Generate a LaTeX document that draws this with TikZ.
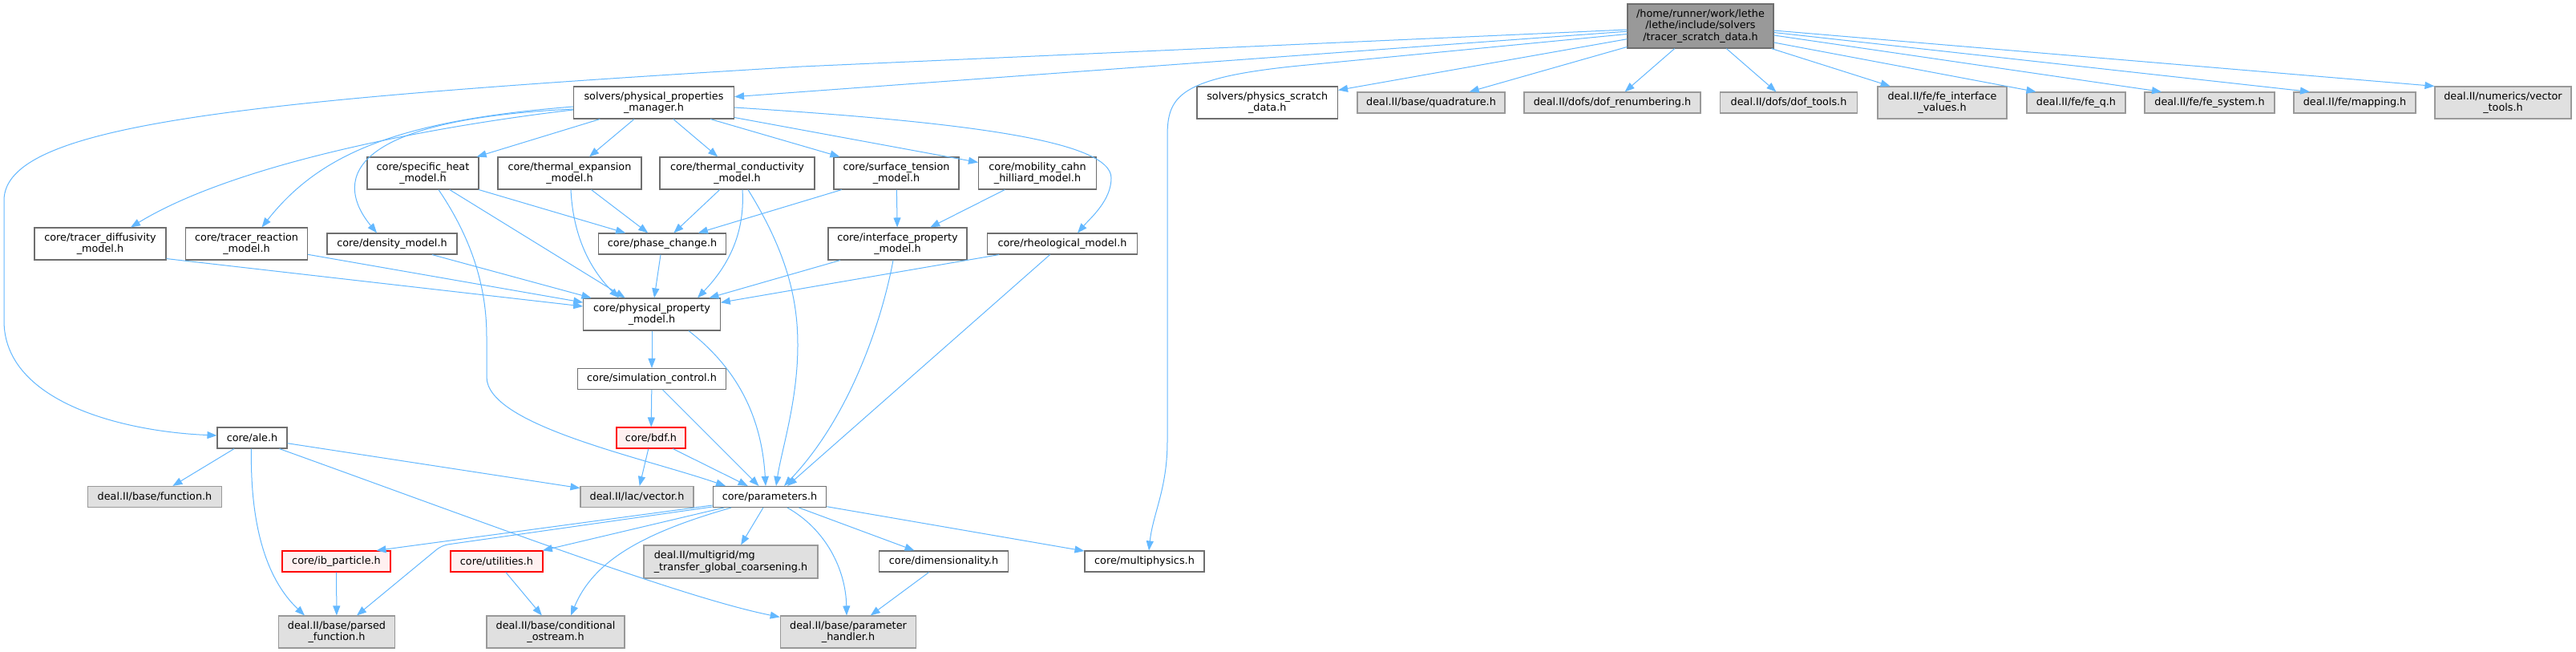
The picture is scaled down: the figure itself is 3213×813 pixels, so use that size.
\documentclass[tikz,border=0pt]{standalone}
\usepackage{fontspec}
\setmainfont{DejaVu Sans}
\usetikzlibrary{arrows.meta}
\definecolor{edgeblue}{HTML}{63B8FF}
\definecolor{bordergray}{HTML}{6E6E6E}
\definecolor{extfill}{HTML}{E0E0E0}
\definecolor{extborder}{HTML}{999999}
\definecolor{redfill}{HTML}{FFF0F0}
\definecolor{topfill}{HTML}{999999}
\tikzset{
  whitebox/.style={draw=bordergray, fill=white, line width=1.1pt, inner sep=0pt,
    minimum height=26pt, align=center, font=\fontsize{12.8}{14.7}\selectfont},
  twoline/.style={minimum height=40pt},
  extbox/.style={whitebox, fill=extfill, draw=extborder},
  redbox/.style={whitebox, fill=redfill, draw=red},
  topbox/.style={whitebox, fill=topfill, draw=bordergray, minimum height=55pt},
  dep/.style={draw=edgeblue, line width=1pt, -{Triangle[length=12pt,width=9pt]}},
}
\begin{document}
\begin{tikzpicture}[x=1pt,y=-1pt]
\fill[white] (0,0) rectangle (3213,813);
\useasboundingbox (0,0) rectangle (3213,813);

% row 0
\node[topbox, minimum width=182pt] (top) at (2121,32.5) {/home/runner/work/lethe\\/lethe/include/solvers\\/tracer\_scratch\_data.h};
% row 1
\node[whitebox, twoline, minimum width=200pt] (manager) at (815.5,128) {solvers/physical\_properties\\\_manager.h};
\node[whitebox, twoline, minimum width=175.5pt] (physics_scratch) at (1580.75,128) {solvers/physics\_scratch\\\_data.h};
\node[extbox, minimum width=184pt] (quadrature) at (1785,128) {deal.II/base/quadrature.h};
\node[extbox, minimum width=220pt] (dof_renumbering) at (2011,128) {deal.II/dofs/dof\_renumbering.h};
\node[extbox, minimum width=170.5pt] (dof_tools) at (2231,128) {deal.II/dofs/dof\_tools.h};
\node[extbox, twoline, minimum width=161pt] (fe_interface) at (2422.5,128) {deal.II/fe/fe\_interface\\\_values.h};
\node[extbox, minimum width=123pt] (fe_q) at (2589.5,128) {deal.II/fe/fe\_q.h};
\node[extbox, minimum width=162pt] (fe_system) at (2756,128) {deal.II/fe/fe\_system.h};
\node[extbox, minimum width=152pt] (mapping) at (2937,128) {deal.II/fe/mapping.h};
\node[extbox, twoline, minimum width=170pt] (vector_tools) at (3122,128) {deal.II/numerics/vector\\\_tools.h};
% row 2
\node[whitebox, twoline, minimum width=139pt] (specific_heat) at (527.5,216) {core/specific\_heat\\\_model.h};
\node[whitebox, twoline, minimum width=179pt] (thermal_expansion) at (710.5,216) {core/thermal\_expansion\\\_model.h};
\node[whitebox, twoline, minimum width=193pt] (thermal_conductivity) at (919.5,216) {core/thermal\_conductivity\\\_model.h};
\node[whitebox, twoline, minimum width=156pt] (surface_tension) at (1118,216) {core/surface\_tension\\\_model.h};
\node[whitebox, twoline, minimum width=147pt] (mobility) at (1294,216) {core/mobility\_cahn\\\_hilliard\_model.h};
% row 3
\node[whitebox, twoline, minimum width=164pt] (tracer_diff) at (125,304) {core/tracer\_diffusivity\\\_model.h};
\node[whitebox, twoline, minimum width=152pt] (tracer_reaction) at (307.5,304) {core/tracer\_reaction\\\_model.h};
\node[whitebox, minimum width=162pt] (density) at (489,304) {core/density\_model.h};
\node[whitebox, minimum width=158.6pt] (phase_change) at (826,304) {core/phase\_change.h};
\node[whitebox, twoline, minimum width=173pt] (interface) at (1119.5,304) {core/interface\_property\\\_model.h};
\node[whitebox, minimum width=186.5pt] (rheological) at (1325,304) {core/rheological\_model.h};
% row 4-6
\node[whitebox, twoline, minimum width=170.5pt] (ppm) at (813,392) {core/physical\_property\\\_model.h};
\node[whitebox, minimum width=185.6pt] (sim_control) at (813,472.5) {core/simulation\_control.h};
\node[redbox, minimum width=86pt] (bdf) at (812,546) {core/bdf.h};
\node[whitebox, minimum width=87pt] (ale) at (314.5,546) {core/ale.h};
% row 7
\node[extbox, minimum width=167pt] (function) at (193,619.5) {deal.II/base/function.h};
\node[extbox, minimum width=141pt] (vector) at (794.5,619.5) {deal.II/lac/vector.h};
\node[whitebox, minimum width=141.7pt] (parameters) at (960,619.5) {core/parameters.h};
% row 8
\node[redbox, minimum width=135pt] (ib) at (419.5,700) {core/ib\_particle.h};
\node[redbox, minimum width=115pt] (utilities) at (619.5,700) {core/utilities.h};
\node[extbox, minimum height=41pt, minimum width=217pt, align=left] (multigrid) at (911.5,700.5) {deal.II/multigrid/mg\\\_transfer\_global\_coarsening.h};
\node[whitebox, minimum width=161.5pt] (dimensionality) at (1177,700) {core/dimensionality.h};
\node[whitebox, minimum width=149pt] (multiphysics) at (1427.5,700) {core/multiphysics.h};
% row 9
\node[extbox, twoline, minimum width=145.5pt] (parsed) at (420,788) {deal.II/base/parsed\\\_function.h};
\node[extbox, twoline, minimum width=172pt] (conditional) at (693,788) {deal.II/base/conditional\\\_ostream.h};
\node[extbox, twoline, minimum width=169.5pt] (param_handler) at (1058,788) {deal.II/base/parameter\\\_handler.h};

% edges from top
\draw[dep] ([yshift=-4.5pt]top.west) -- (1000,83) .. controls (300,125) and (5,155) .. (5,250) -- (5,400) .. controls (5,500) and (150,538) .. ([yshift=3pt]ale.west);
\draw[dep] (top) -- (manager);
\draw[dep] ([yshift=-10pt]top.west) -- (1620,82) .. controls (1470,97) and (1456,120) .. (1456,170) -- (1456,550) .. controls (1456,610) and (1438,640) .. ([xshift=5.5pt]multiphysics.north);
\draw[dep] (top) -- (physics_scratch);
\draw[dep] (top) -- (quadrature);
\draw[dep] (top) -- (dof_renumbering);
\draw[dep] (top) -- (dof_tools);
\draw[dep] (top) -- (fe_interface);
\draw[dep] ([yshift=-20.5pt]top.east) -- ([xshift=-50pt]fe_q.north);
\draw[dep] ([yshift=-11.5pt]top.east) -- ([xshift=-60pt]fe_system.north);
\draw[dep] ([yshift=-8pt]top.east) -- ([xshift=-56pt]mapping.north);
\draw[dep] ([yshift=-5.5pt]top.east) -- (vector_tools.north west);

% edges from manager
\draw[dep] (manager) -- (specific_heat);
\draw[dep] (manager) -- (thermal_expansion);
\draw[dep] (manager) -- (thermal_conductivity);
\draw[dep] (manager) -- (surface_tension);
\draw[dep] (manager) -- (mobility);
\draw[dep] ([yshift=-6pt]manager.east) .. controls (1200,152) and (1386,175) .. (1386,222) .. controls (1386,250) and (1360,272) .. ([xshift=19pt]rheological.north);
\draw[dep] ([yshift=-9pt]manager.west) .. controls (560,155) and (300,200) .. ([xshift=38pt]tracer_diff.north);
\draw[dep] ([yshift=-5pt]manager.west) .. controls (500,150) and (400,190) .. ([xshift=19pt]tracer_reaction.north);
\draw[dep] ([yshift=-8pt]manager.west) .. controls (420,150) and (420,230) .. ([xshift=-19pt]density.north);

% row 2 edges
\draw[dep] (specific_heat) -- (phase_change);
\draw[dep] (specific_heat) -- (ppm);
\draw[dep] ([xshift=19.5pt]specific_heat.south) .. controls (590,300) and (607,360) .. (607,420) -- (607,470) .. controls (607,530) and (800,570) .. ([xshift=-55pt]parameters.north);
\draw[dep] (thermal_expansion) -- (phase_change);
\draw[dep] ([xshift=1.5pt]thermal_expansion.south) .. controls (715,300) and (740,340) .. ([xshift=-41pt]ppm.north);
\draw[dep] (thermal_conductivity) -- (phase_change);
\draw[dep] ([xshift=6.5pt]thermal_conductivity.south) .. controls (930,300) and (900,340) .. ([xshift=57pt]ppm.north);
\draw[dep] ([xshift=13.5pt]thermal_conductivity.south) .. controls (985,320) and (995,380) .. (995,430) .. controls (995,500) and (975,560) .. ([xshift=8pt]parameters.north);
\draw[dep] (surface_tension) -- (phase_change);
\draw[dep] (surface_tension) -- (interface);
\draw[dep] (mobility) -- (interface);

% row 3 edges
\draw[dep] ([yshift=2pt]tracer_diff.south east) -- ([yshift=10pt]ppm.west);
\draw[dep] (tracer_reaction) -- (ppm);
\draw[dep] (density) -- (ppm);
\draw[dep] (phase_change) -- (ppm);
\draw[dep] (interface) -- (ppm);
\draw[dep] ([xshift=-5.5pt]interface.south) .. controls (1100,400) and (1060,520) .. ([xshift=18pt]parameters.north);
\draw[dep] (rheological) -- (ppm);
\draw[dep] (rheological) -- ([xshift=22pt]parameters.north);

% middle edges
\draw[dep] (ppm) -- (sim_control);
\draw[dep] ([xshift=46pt]ppm.south) .. controls (920,460) and (950,520) .. ([xshift=-5pt]parameters.north);
\draw[dep] (sim_control) -- (bdf);
\draw[dep] (sim_control) -- (parameters);
\draw[dep] (bdf) -- (vector);
\draw[dep] (bdf) -- (parameters);
\draw[dep] (ale) -- (function);
\draw[dep] (ale) -- (vector);
\draw[dep] ([xshift=-1pt]ale.south) .. controls (312,650) and (330,720) .. ([xshift=-40pt]parsed.north);
\draw[dep] ([xshift=34pt]ale.south) .. controls (600,650) and (850,745) .. ([yshift=-2pt]param_handler.north west);

% parameters edges
\draw[dep] ([yshift=-10.5pt]parameters.west) -- ([xshift=50pt]ib.north);
\draw[dep, rounded corners=8pt] ([yshift=-12.5pt]parameters.west) -- (551,680) -- ([xshift=25pt]parsed.north);
\draw[dep] (parameters) -- (utilities);
\draw[dep] ([xshift=-48pt]parameters.south) .. controls (800,665) and (740,700) .. ([xshift=19pt]conditional.north);
\draw[dep] (parameters) -- (multigrid);
\draw[dep] ([xshift=22pt]parameters.south) .. controls (1030,660) and (1055,710) .. ([xshift=-2pt]param_handler.north);
\draw[dep] (parameters) -- (dimensionality);
\draw[dep] (parameters) -- (multiphysics);

% bottom edges
\draw[dep] (ib) -- (parsed);
\draw[dep] (utilities) -- (conditional);
\draw[dep] (dimensionality) -- (param_handler);
\end{tikzpicture}
\end{document}
